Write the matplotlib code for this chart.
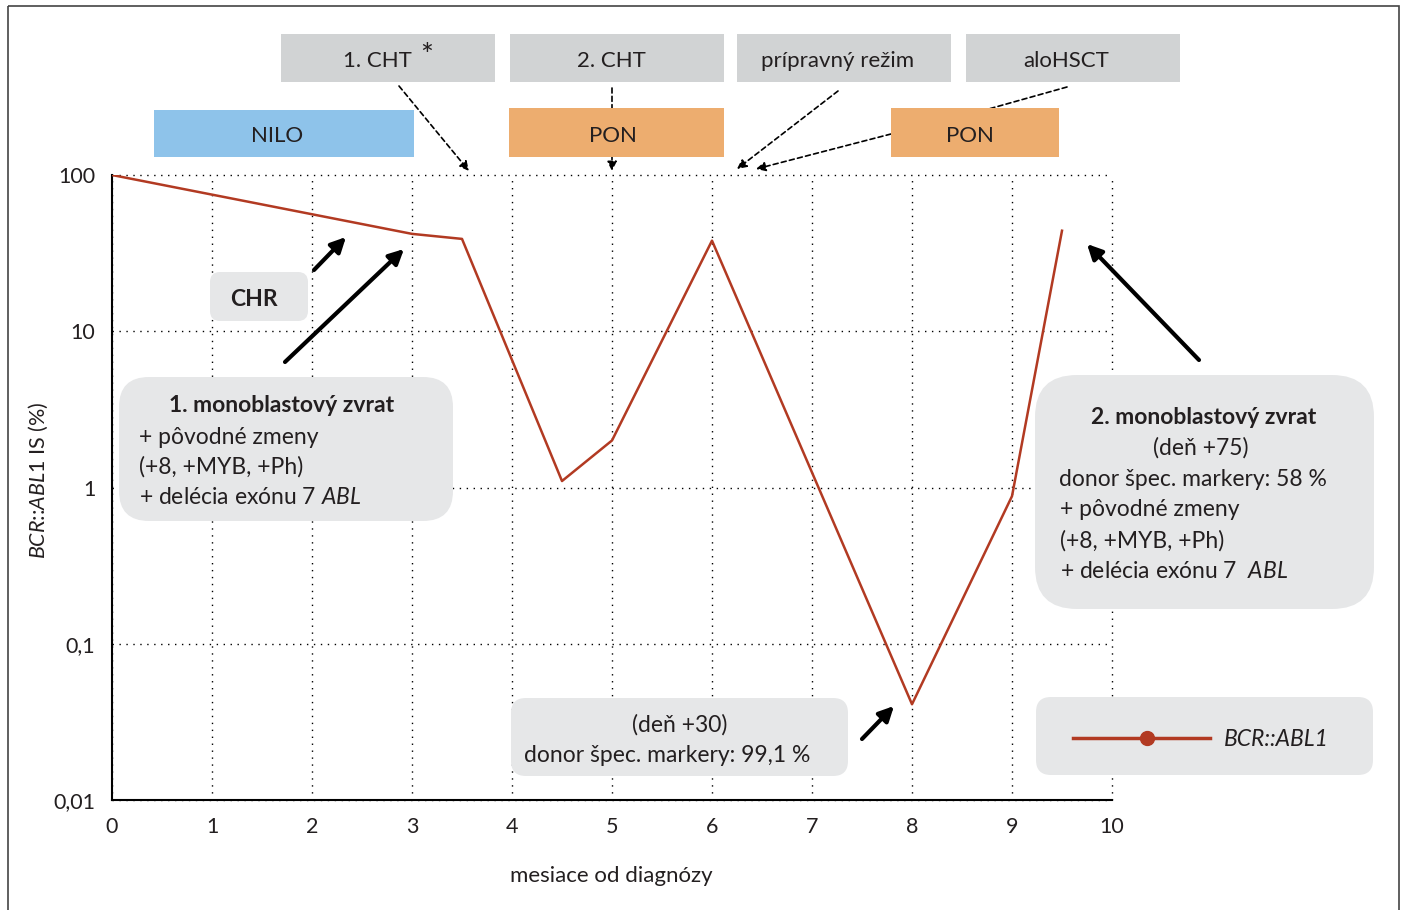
import numpy as np
import matplotlib.pyplot as plt
import matplotlib.transforms as mtransforms
from matplotlib.patches import FancyBboxPatch, Rectangle, FancyArrowPatch
from matplotlib.lines import Line2D

plt.rcParams['font.family'] = ['Lato', 'DejaVu Sans']
plt.rcParams['mathtext.fontset'] = 'custom'
plt.rcParams['mathtext.rm'] = 'Lato'
plt.rcParams['mathtext.it'] = 'Lato:italic'
plt.rcParams['mathtext.bf'] = 'Lato:bold'

# BCR::ABL1 IS (%) over months since diagnosis
months = [0, 3, 3.5, 4.5, 5, 6, 8, 9, 9.5]
bcr_abl = [100, 42, 39, 1.1, 2.0, 38, 0.041, 0.88, 44]

x_ticks = list(range(11))
y_ticks = [0.01, 0.1, 1, 10, 100]
y_tick_labels = ['0,01', '0,1', '1', '10', '100']

red = '#b23a22'
ink = '#231f20'
grey_top = '#d1d3d4'
grey_box = '#e6e7e8'
blue = '#8ec3ea'
orange = '#edad6f'

W, H = 1403, 910
fig = plt.figure(figsize=(W / 100, H / 100), dpi=100)
ax = fig.add_axes([112 / W, 1 - 800 / H, 1000 / W, 625 / H])
ax.plot(months, bcr_abl, color=red, lw=1.8, zorder=3)
ax.set_yscale('log')
ax.set_xlim(0, 10)
ax.set_ylim(0.01, 100)
ax.set_xticks(x_ticks)
ax.set_yticks(y_ticks, y_tick_labels)
ax.minorticks_off()
ax.tick_params(length=0, labelsize=15.5, pad=12, colors=ink)
ax.grid(True, ls=(0, (1, 4)), color='black', lw=1)
for gl in ax.get_xgridlines() + ax.get_ygridlines():
    gl.set_clip_on(False)
ax.spines[['top', 'right']].set_visible(False)
ax.spines[['left', 'bottom']].set_linewidth(1.5)

# pixel coordinates of the reference, y going down
T = mtransforms.Affine2D().scale(1 / W, -1 / H).translate(0, 1) + fig.transFigure


def box(x0, y0, x1, y1, color, r=0):
    style = 'square,pad=0' if r == 0 else 'round,pad=0,rounding_size=%d' % r
    p = FancyBboxPatch((x0, y0), x1 - x0, y1 - y0, boxstyle=style,
                       transform=T, fc=color, ec='none', zorder=2)
    fig.add_artist(p)


def txt(x, y, s, ha='center', size=16.5, **kw):
    fig.text(x, y, s, transform=T, ha=ha, va='center', fontsize=size,
             color=ink, zorder=5, **kw)


def arrow(a, b, dashed=False, head=True):
    if dashed:
        p = FancyArrowPatch(a, b, transform=T, arrowstyle='-|>' if head else '-',
                            mutation_scale=14, lw=1.2, ls=(0, (3, 2)),
                            color='black', zorder=1.5, shrinkA=0, shrinkB=0)
    else:
        p = FancyArrowPatch(a, b, transform=T, arrowstyle='-|>',
                            mutation_scale=22, lw=3, color='black',
                            zorder=4, shrinkA=0, shrinkB=0)
    fig.add_artist(p)


# outer frame
fig.add_artist(Rectangle((8, 6), 1391, 920, transform=T, fill=False,
                         lw=1.2, ec='#444444', zorder=0))

# therapy boxes
box(281, 34, 495, 82, grey_top)
box(510, 34, 724, 82, grey_top)
box(737, 34, 951, 82, grey_top)
box(966, 34, 1180, 82, grey_top)
txt(377, 61, '1. CHT', size=16)
txt(427, 56, '*', size=22)
txt(611, 61, '2. CHT', size=16)
txt(838, 61, 'prípravný režim', size=16)
txt(1066, 61, 'aloHSCT', size=16)

box(154, 110, 414, 157, blue)
box(509, 108, 724, 157, orange)
box(891, 108, 1059, 157, orange)
txt(277, 136, 'NILO', size=16)
txt(613, 136, 'PON', size=16)
txt(970, 136, 'PON', size=16)

arrow((399, 86), (469, 171), dashed=True)
arrow((612, 88), (612, 171), dashed=True)
arrow((838, 91), (737, 169), dashed=True)
arrow((891, 134), (756, 169), dashed=True)
arrow((1067, 87), (985, 110), dashed=True, head=False)

# annotation boxes
box(210, 272, 308, 321, grey_box, r=10)
txt(254, 299, 'CHR', weight='bold')

box(119, 377, 453, 521, grey_box, r=30)
txt(282, 406, '1. monoblastový zvrat', weight='bold')
txt(139, 438, '+ pôvodné zmeny', ha='left')
txt(139, 467, '(+8, +MYB, +Ph)', ha='left')
txt(139, 498, r'+ delécia exónu 7 $\mathit{ABL}$', ha='left')

box(1035, 375, 1374, 609, grey_box, r=42)
txt(1204, 417, '2. monoblastový zvrat', weight='bold')
txt(1201, 448, '(deň +75)')
txt(1193, 479, 'donor špec. markery: 58 %')
txt(1060, 510, '+ pôvodné zmeny', ha='left')
txt(1060, 541, '(+8, +MYB, +Ph)', ha='left')
txt(1060, 572, r'+ delécia exónu 7  $\mathit{ABL}$', ha='left')

box(511, 698, 848, 776, grey_box, r=15)
txt(680, 725, '(deň +30)')
txt(667, 756, 'donor špec. markery: 99,1 %')

arrow((314, 270), (346, 237))
arrow((285, 362), (404, 249))
arrow((1199, 360), (1087, 244))
arrow((862, 739), (894, 706))

# legend
box(1036, 697, 1373, 775, grey_box, r=15)
fig.add_artist(Line2D([1073, 1210], [738, 738], transform=T, color=red,
                      lw=2.5, zorder=5))
fig.add_artist(Line2D([1147], [738], transform=T, color=red, marker='o',
                      ms=10, zorder=6))
txt(1224, 739, 'BCR::ABL1', ha='left', style='italic')

# axis labels
txt(611, 876, 'mesiace od diagnózy', size=16)
fig.text(38, 480, r'$\mathit{BCR}$::$\mathit{ABL1}$ IS (%)', transform=T,
         rotation=90, ha='center', va='center', fontsize=15.5, color=ink)

fig.savefig('out.png', dpi=100)
